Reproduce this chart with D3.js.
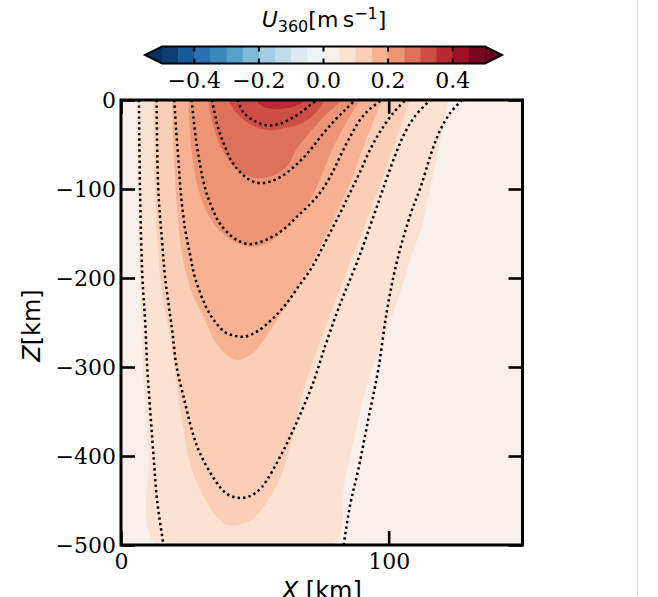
<!DOCTYPE html>
<html>
<head>
<meta charset="utf-8">
<title>U360 section</title>
<style>
  body { margin: 0; padding: 0; background: #fff; }
  svg { display: block; }
</style>
</head>
<body>
<div id="chart"></div>
<script src="https://d3js.org/d3.v7.min.js"></script>
<script>
// filled contour levels of U360 [m/s]; each outline is [x km, z km]
var fillLevels = [0.05, 0.10, 0.15, 0.20, 0.25, 0.30, 0.35];

var fill05 = [[5.9,0],[6.2,-99],[7.1,-200],[7.7,-256],[8.6,-326],[10.2,-397],[13.3,-500],
  [78.9,-500],[83.7,-427],[88.6,-360],[91.2,-327],[93.8,-303],[98.7,-264],[103.9,-220],
  [108.4,-176],[112.1,-145],[115.5,-101],[118.5,-56],[120.4,-28],[122.3,0]];
var fill10 = [[12.1,0],[12.7,-99],[13.8,-169],[15.7,-225],[18.3,-264],[20.6,-315],[22.8,-360],
  [26.5,-416],[31.4,-449],[35.1,-466],[40,-477.5],[48.2,-473],[53.8,-455],[59.4,-425],
  [63.9,-382],[68.0,-328],[72.5,-287],[77.4,-247],[83.7,-197],[91.6,-137],[96.1,-101],
  [100.7,-62],[104.3,-31.5],[108,0]];
var fill15 = [[19,0],[19.6,-56],[21,-124],[23.2,-180],[26.9,-219],[31.4,-247],[34.8,-270],
  [38.9,-285],[43.7,-292],[48.6,-286],[53.1,-271],[57.6,-250],[65.8,-213],[74.4,-165],
  [81.9,-118],[86.4,-88],[90.1,-56],[93.8,-28],[97.6,0]];
var fill20 = [[25.2,0],[26.2,-51],[28.8,-99],[33.3,-133],[40,-155],[48.2,-165],[55.7,-159],
  [63.2,-139],[70.7,-112],[78.9,-56],[83.7,-28],[89.3,0]];
var fill25 = [[32.6,0],[34.4,-28],[37.8,-56],[42.6,-76],[47.5,-85],[52,-88],[57.6,-84],
  [62.4,-73],[65.4,-56],[70.7,-36],[76.3,-17],[83,0]];
var fill30 = [[40,0],[42.2,-11],[44.5,-19],[48.2,-27],[52,-32],[56.8,-34],[62.1,-31],
  [66.9,-27],[70.7,-20],[73.2,-13],[76.3,0]];
var fill35 = [[50.1,0],[52.7,-7],[55.7,-9.5],[59.4,-10],[63.9,-8],[66.9,-4.5],[69.5,0]];
var fillShapes = [fill05, fill10, fill15, fill20, fill25, fill30, fill35];

// dotted contours
var dot1 = [[43.6,0],[45.6,-13.5],[49.3,-22.5],[54.5,-28.4],[59.4,-26.6],[65.7,-17.2],[70.7,-5.6],[73.2,0]];
var dot2 = [[34,0],[36.3,-31.5],[38.9,-52.8],[41.5,-69.7],[44.5,-80.9],[47.5,-88.8],[51.6,-93.3],
  [56.4,-91],[61.3,-83.1],[66.2,-70.8],[70.7,-56.2],[75.1,-39.3],[79.6,-23.6],[83.7,-11.2],[87.5,0]];
var dot3 = [[26.4,0],[28.3,-50.6],[31.4,-98.9],[34,-121],[37,-139],[42.6,-156],[48.2,-162],
  [55.7,-155],[61.3,-144],[65.8,-131],[70.7,-117],[74.9,-102],[78.9,-82],[82.4,-60],
  [86.2,-38],[89.6,-21],[93.2,-9.5],[97.4,0]];
var dot4 = [[19.9,0],[20.6,-33.7],[21.5,-69.4],[22.4,-106],[23.9,-144],[25.8,-174],[27.7,-200],
  [31.4,-230],[35.1,-249],[38.9,-261],[42.6,-265],[46,-266],[49.7,-262],[53.2,-255],[57.6,-243],
  [62,-228],[66.2,-210],[70.7,-191],[74.4,-171],[78.1,-149],[81.9,-127],[85.6,-104],
  [89.3,-80.9],[93,-56.2],[97.2,-33.7],[101.7,-14.6],[106.2,0]];
var dot5 = [[13.3,0],[13.9,-99],[15.3,-157],[16.5,-200],[19,-256],[20.8,-300],[23.9,-340],
  [26.5,-371],[29.5,-397],[35.1,-427],[39.3,-442],[43.7,-447],[48.2,-445],[52.6,-435],
  [60.1,-397],[64.3,-371],[68.4,-343],[72.5,-312],[74.8,-290],[77,-270],[81.9,-229],
  [88.1,-183],[94.3,-131],[98.7,-93],[103.2,-56.2],[106.2,-36],[109.9,-18],[115.5,0]];
var dot6a = [[6.7,0],[7.1,-99],[8,-200],[9,-247],[9.8,-300],[12.1,-397],[13.5,-450],[15.9,-500]];
var dot6b = [[127.4,0],[123,-14.6],[119.3,-33.7],[116.3,-56.2],[112.2,-95.5],[108.1,-129],
  [103.2,-180],[99.4,-236],[96.1,-303],[92.3,-360],[88.6,-416],[85.6,-455],[83.2,-500]];
var dottedLines = [dot1, dot2, dot3, dot4, dot5, dot6a, dot6b];

var xTicks = [0, 100];
var zTicks = [0, -100, -200, -300, -400, -500];
var cbarBounds = [-0.5,-0.45,-0.4,-0.35,-0.3,-0.25,-0.2,-0.15,-0.1,-0.05,0,
  0.05,0.1,0.15,0.2,0.25,0.3,0.35,0.4,0.45,0.5];
var cbarTicks = [-0.4, -0.2, 0, 0.2, 0.4];

// RdBu reversed (matplotlib anchors)
var rdbuStops = ["#053061","#2166ac","#4393c3","#92c5de","#d1e5f0","#f7f7f7",
                 "#fddbc7","#f4a582","#d6604d","#b2182b","#67001f"];
var cmap = d3.scaleLinear()
  .domain(rdbuStops.map(function(d, i) { return i / 10; }))
  .range(rdbuStops)
  .interpolate(d3.interpolateRgb);
var norm = d3.scaleLinear().domain([-0.5, 0.5]).range([0, 1]);
function bandColor(lo, hi) { return cmap(norm((lo + hi) / 2)); }

var width = 658, height = 597;
// plot box (note: "top" is reserved on window, so use px/py names)
var px0 = 121, px1 = 522.5, py0 = 100, py1 = 545;

var svg = d3.select("#chart").append("svg")
  .attr("width", width)
  .attr("height", height);

var x = d3.scaleLinear().domain([0, 150]).range([px0, px1]);
var z = d3.scaleLinear().domain([0, -500]).range([py0, py1]);

svg.append("clipPath").attr("id", "plotclip")
  .append("rect")
  .attr("x", px0).attr("y", py0)
  .attr("width", px1 - px0).attr("height", py1 - py0);

var plot = svg.append("g").attr("clip-path", "url(#plotclip)");

var line = d3.line()
  .x(function(d) { return x(d[0]); })
  .y(function(d) { return z(d[1]); })
  .curve(d3.curveCatmullRom.alpha(0.5));

// lowest band fills the whole box
plot.append("rect")
  .attr("x", px0).attr("y", py0)
  .attr("width", px1 - px0).attr("height", py1 - py0)
  .attr("fill", bandColor(0, fillLevels[0]));

fillShapes.forEach(function(shape, i) {
  var lo = fillLevels[i];
  var hi = i + 1 < fillLevels.length ? fillLevels[i + 1] : lo + 0.05;
  plot.append("path")
    .attr("d", line(shape) + "Z")
    .attr("fill", bandColor(lo, hi));
});

dottedLines.forEach(function(pts) {
  plot.append("path")
    .attr("d", line(pts))
    .attr("fill", "none")
    .attr("stroke", "#000")
    .attr("stroke-width", 2.5)
    .attr("stroke-dasharray", "2.4,3.1");
});

// axes, inward ticks on all four sides
var tickFont = "'DejaVu Serif', serif";

svg.append("g")
  .attr("transform", "translate(0," + py1 + ")")
  .call(d3.axisBottom(x).tickValues(xTicks).tickSizeInner(-14).tickSizeOuter(0).tickPadding(8));
svg.append("g")
  .attr("transform", "translate(" + px0 + ",0)")
  .call(d3.axisLeft(z).tickValues(zTicks).tickSizeInner(-14).tickSizeOuter(0).tickPadding(5)
    .tickFormat(d3.format("d")));
svg.append("g")
  .attr("transform", "translate(0," + py0 + ")")
  .call(d3.axisTop(x).tickValues(xTicks).tickSizeInner(-14).tickSizeOuter(0).tickFormat(""));
svg.append("g")
  .attr("transform", "translate(" + px1 + ",0)")
  .call(d3.axisRight(z).tickValues(zTicks).tickSizeInner(-14).tickSizeOuter(0).tickFormat(""));

svg.selectAll(".domain").remove();
svg.selectAll(".tick line").attr("stroke", "#000").attr("stroke-width", 2.6);
svg.selectAll(".tick text")
  .attr("fill", "#000")
  .style("font-family", tickFont)
  .style("font-size", "22px");

svg.append("rect")
  .attr("x", px0).attr("y", py0)
  .attr("width", px1 - px0).attr("height", py1 - py0)
  .attr("fill", "none")
  .attr("stroke", "#000")
  .attr("stroke-width", 3);

// axis labels
var labelFont = "'DejaVu Sans', sans-serif";
var xl = svg.append("text")
  .attr("x", (px0 + px1) / 2)
  .attr("y", 599)
  .attr("text-anchor", "middle")
  .style("font-family", labelFont)
  .style("font-size", "24px");
xl.append("tspan").style("font-style", "italic").text("X");
xl.append("tspan").text(" [km]");

var zl = svg.append("text")
  .attr("transform", "translate(40," + ((py0 + py1) / 2 + 3) + ") rotate(-90)")
  .attr("text-anchor", "middle")
  .style("font-family", labelFont)
  .style("font-size", "24px");
zl.append("tspan").style("font-style", "italic").text("Z");
zl.append("tspan").text("[km]");

// colorbar
var cx = d3.scaleLinear().domain([-0.5, 0.5]).range([162, 485]);
var cTop = 46.5, cBot = 63.5, cMid = (cTop + cBot) / 2, tri = 17;
var cbar = svg.append("g");

cbar.selectAll("rect.bin")
  .data(d3.pairs(cbarBounds))
  .enter().append("rect")
  .attr("class", "bin")
  .attr("x", function(d) { return cx(d[0]); })
  .attr("y", cTop)
  .attr("width", function(d) { return cx(d[1]) - cx(d[0]) + 0.5; })
  .attr("height", cBot - cTop)
  .attr("fill", function(d) { return bandColor(d[0], d[1]); });

cbar.append("path")
  .attr("d", "M" + cx(-0.5) + "," + cTop + "L" + (cx(-0.5) - tri) + "," + cMid + "L" + cx(-0.5) + "," + cBot + "Z")
  .attr("fill", cmap(0));
cbar.append("path")
  .attr("d", "M" + cx(0.5) + "," + cTop + "L" + (cx(0.5) + tri) + "," + cMid + "L" + cx(0.5) + "," + cBot + "Z")
  .attr("fill", cmap(1));

cbar.selectAll("g.ctick")
  .data(cbarTicks)
  .enter().append("g")
  .attr("class", "ctick")
  .each(function(d) {
    var g = d3.select(this);
    g.append("line").attr("x1", cx(d)).attr("x2", cx(d)).attr("y1", cTop).attr("y2", cTop + 5)
      .attr("stroke", "#000").attr("stroke-width", 2);
    g.append("line").attr("x1", cx(d)).attr("x2", cx(d)).attr("y1", cBot - 5).attr("y2", cBot)
      .attr("stroke", "#000").attr("stroke-width", 2);
    g.append("text")
      .attr("x", cx(d)).attr("y", 88)
      .attr("text-anchor", "middle")
      .style("font-family", tickFont)
      .style("font-size", "22px")
      .text(d3.format(".1f")(d));
  });

cbar.append("path")
  .attr("d", "M" + cx(-0.5) + "," + cTop + "L" + cx(0.5) + "," + cTop + "L" + (cx(0.5) + tri) + "," + cMid +
    "L" + cx(0.5) + "," + cBot + "L" + cx(-0.5) + "," + cBot + "L" + (cx(-0.5) - tri) + "," + cMid + "Z")
  .attr("fill", "none")
  .attr("stroke", "#000")
  .attr("stroke-width", 2);

// colorbar title: U_360 [m s^-1]
var title = svg.append("text")
  .attr("x", 324).attr("y", 27)
  .attr("text-anchor", "middle")
  .style("font-family", labelFont)
  .style("font-size", "22px");
title.append("tspan").style("font-style", "italic").text("U");
title.append("tspan").attr("dy", 5).style("font-size", "16px").text("360");
title.append("tspan").attr("dy", -5).text("[m\u2009s");
title.append("tspan").attr("dy", -8).style("font-size", "16px").text("\u22121");
title.append("tspan").attr("dy", 8).text("]");

// faint frame edge on the right
svg.append("line")
  .attr("x1", 637.5).attr("x2", 637.5).attr("y1", 0).attr("y2", height)
  .attr("stroke", "#d9d9d9").attr("stroke-width", 1);
</script>
</body>
</html>
